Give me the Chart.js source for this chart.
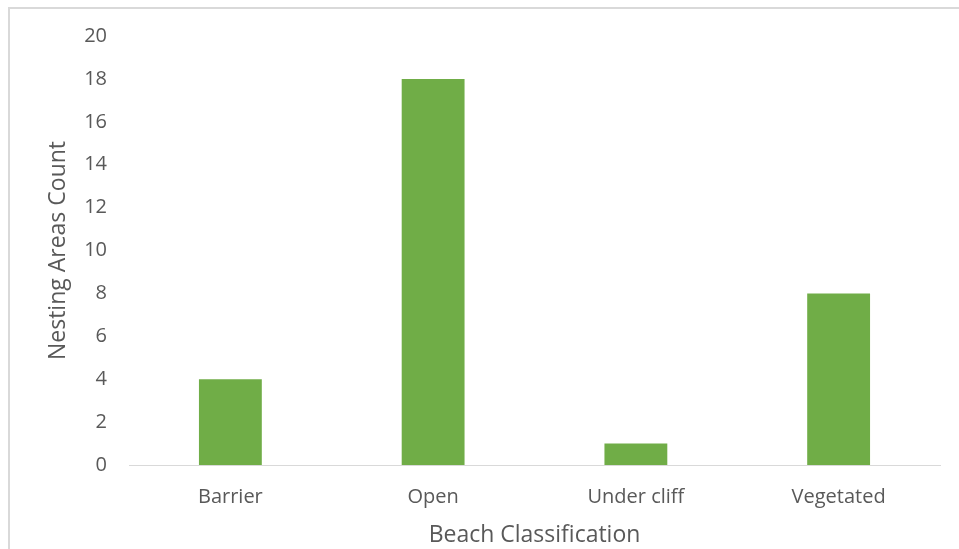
<!DOCTYPE html>
<html>
<head>
<meta charset="utf-8">
<script src="https://cdn.jsdelivr.net/npm/chart.js@4/dist/chart.umd.min.js"></script>
<style>
  html, body { margin: 0; padding: 0; background: #fff; }
  body { width: 959px; height: 549px; position: relative; overflow: hidden; }
  #frame { position: absolute; left: 8px; top: 7px; width: 1000px; height: 600px;
           border-top: 2px solid #d9d9d9; border-left: 2px solid #d9d9d9; }
  #wrap { position: absolute; left: 0; top: 0; width: 959px; height: 549px; }
</style>
</head>
<body>
<div id="frame"></div>
<div id="wrap"><canvas id="chart"></canvas></div>
<script>
// data
const categories = ["Barrier", "Open", "Under cliff", "Vegetated"]
const nestingCounts = [4, 18, 1, 8]
const yTicks = [0, 2, 4, 6, 8, 10, 12, 14, 16, 18, 20]

const green = "#70ad47"
const textGrey = "#595959"
const fontName = "'Open Sans', sans-serif"

new Chart("chart", {
  type: "bar",
  data: {
    labels: categories,
    datasets: [{
      data: nestingCounts,
      backgroundColor: green,
      borderWidth: 0,
      barPercentage: 0.62,
      categoryPercentage: 0.5
    }]
  },
  options: {
    responsive: true,
    maintainAspectRatio: false,
    animation: false,
    layout: { padding: { top: 36, right: 19, bottom: 0, left: 0 } },
    plugins: { legend: { display: false }, tooltip: { enabled: false } },
    scales: {
      x: {
        grid: { display: false, drawTicks: false },
        border: { display: true, color: "#d9d9d9", width: 1 },
        ticks: { color: textGrey, font: { family: fontName, size: 20 }, padding: 20 },
        title: {
          display: true, text: "Beach Classification", color: textGrey,
          font: { family: fontName, size: 23 }, padding: { top: 0, bottom: 0 }
        },
        afterFit: (s) => { s.height = 84 }
      },
      y: {
        min: 0, max: 20,
        afterBuildTicks: (s) => { s.ticks = yTicks.map(v => ({ value: v })) },
        grid: { display: false, drawTicks: false },
        border: { display: false },
        ticks: { color: textGrey, font: { family: fontName, size: 20 }, padding: 22 },
        title: {
          display: true, text: "Nesting Areas Count", color: textGrey,
          font: { family: fontName, size: 23 }, padding: { top: 45, bottom: 0 }
        },
        afterFit: (s) => { s.width = 129 }
      }
    }
  }
})
</script>
</body>
</html>
